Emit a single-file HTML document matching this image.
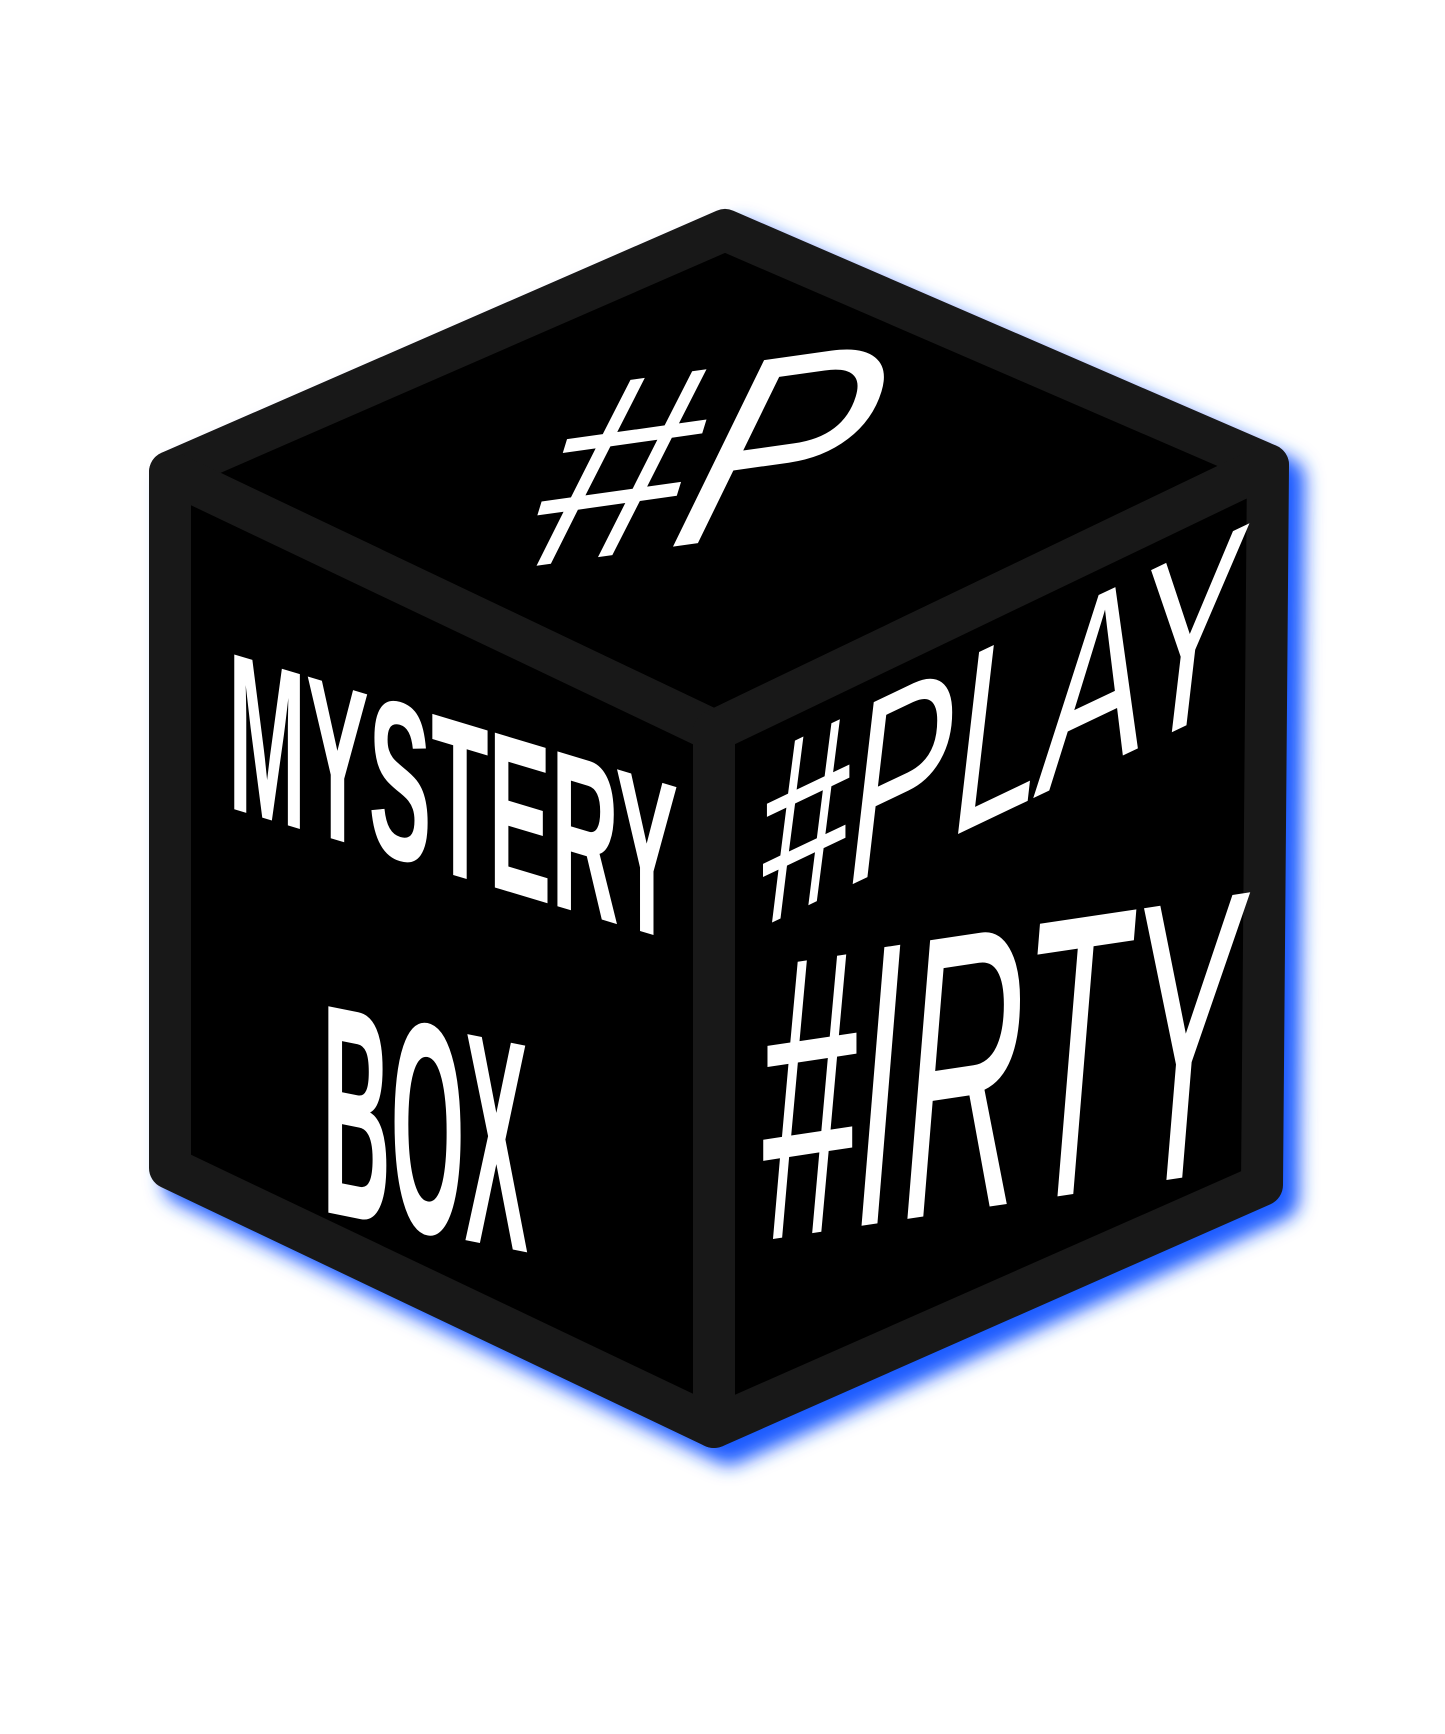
<!DOCTYPE html>
<html><head><meta charset="utf-8"><style>
html,body{margin:0;padding:0;background:#fff;}
svg{display:block;}
</style></head><body>
<svg width="1445" height="1734" viewBox="0 0 1445 1734" xmlns="http://www.w3.org/2000/svg">
<defs>
<filter id="glow" x="-10%" y="-10%" width="130%" height="130%">
<feGaussianBlur stdDeviation="9"/>
</filter>
</defs>
<polygon points="731,236 1274,471 1268,1191 720,1435 176,1174 176,478" fill="#1f5cff" stroke="#1f5cff" stroke-width="44" stroke-linejoin="round" filter="url(#glow)" transform="translate(9,8)"/>
<g stroke="#181818" stroke-width="42" stroke-linejoin="round" fill="#000">
<polygon points="725,230 1268,465 714,731 170,472"/>
<polygon points="170,472 714,731 714,1427 170,1168"/>
<polygon points="714,731 1268,465 1262,1185 714,1427"/>
</g>
<g transform="translate(707,456) rotate(-8) skewX(-25)">
<text x="0" y="85" text-anchor="middle" font-family="Liberation Sans, sans-serif" font-style="italic" font-size="250" fill="#fff" textLength="330" lengthAdjust="spacingAndGlyphs">#P</text>
</g>
<g fill="#fff" font-family="Liberation Sans Narrow, Liberation Sans, sans-serif" font-weight="bold">
<text transform="matrix(1,0.3,0,1,0,0)" x="453" y="739" text-anchor="middle" font-size="225" textLength="450" lengthAdjust="spacingAndGlyphs">MYSTERY</text>
<text transform="matrix(1,0.2,0,1,0,0)" x="425" y="1147" text-anchor="middle" font-size="300" textLength="206" lengthAdjust="spacingAndGlyphs">BOX</text>
</g>
<g fill="#fff" font-family="Liberation Sans, sans-serif" font-style="italic">
<text transform="matrix(1,-0.476,0,1,0,0)" x="1000" y="1290" text-anchor="middle" font-size="250" textLength="480" lengthAdjust="spacingAndGlyphs">#PLAY</text>
<text transform="matrix(1,-0.15,0,1,0,0)" x="1000" y="1355" text-anchor="middle" font-size="400" textLength="480" lengthAdjust="spacingAndGlyphs">#IRTY</text>
</g>
</svg>
</body></html>
